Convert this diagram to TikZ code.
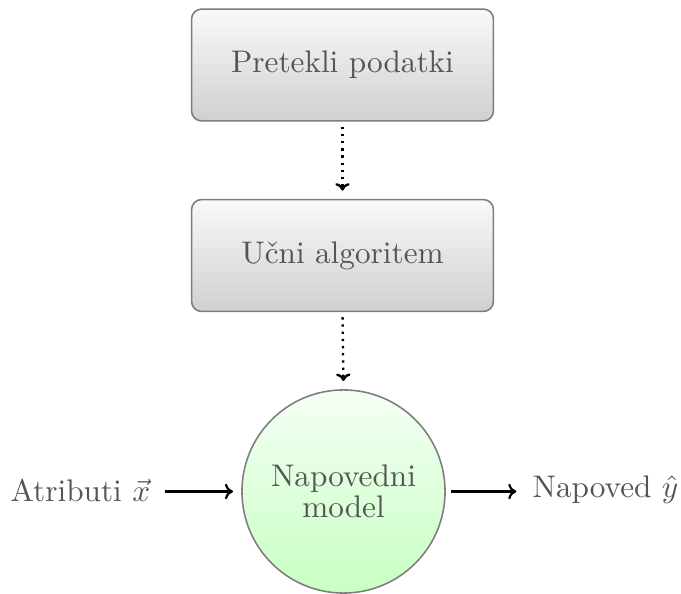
\documentclass[tikz,border=0pt]{standalone}
\usetikzlibrary{arrows.meta,shapes.geometric}
\definecolor{textgray}{RGB}{85,85,85}
\definecolor{bordergray}{RGB}{125,125,125}
\definecolor{boxtop}{RGB}{249,249,249}
\definecolor{boxbottom}{RGB}{208,208,208}
\definecolor{modeltop}{RGB}{245,255,245}
\definecolor{modelbottom}{RGB}{200,255,195}
\tikzset{
  stagebox/.style={draw=bordergray, line width=0.5pt, rounded corners=3.2pt,
    minimum width=96.6pt, minimum height=35.8pt,
    top color=boxtop, bottom color=boxbottom, text=textgray, font=\normalsize},
  modelnode/.style={draw=bordergray, line width=0.5pt, circle,
    minimum size=65pt, inner sep=0pt, align=center,
    top color=modeltop, bottom color=modelbottom, text=textgray},
  plainlabel/.style={text=textgray},
  flowarrow/.style={-{To[length=2.4pt,width=4.6pt]}, line width=0.75pt,
    dash pattern=on 0.75pt off 1.55pt, shorten <=1.6pt, shorten >=2.6pt},
  iolink/.style={-{To[length=2.6pt,width=5pt]}, line width=0.7pt}
}
\begin{document}
\begin{tikzpicture}[x=0.32pt,y=-0.32pt]
  \useasboundingbox (0,0) rectangle (681,594);
  \node[stagebox] (data) at (342.5,65) {Pretekli podatki};
  \node[stagebox] (learn) at (342.5,255.5) {U\v{c}ni algoritem};
  \node[modelnode] (model) at (343.5,491.5) {Napovedni\\[-2pt]model};
  \node[plainlabel, anchor=west, inner sep=0pt] (input) at (10,490) {Atributi $\vec{x}$};
  \node[plainlabel, anchor=west, inner sep=0pt] (output) at (532,490) {Napoved $\hat{y}$};
  \draw[flowarrow] (data.south) -- (learn.north);
  \draw[flowarrow] (learn.south) -- (model.north);
  \draw[iolink, shorten <=4.4pt, shorten >=2.6pt] (input.east |- model.west) -- (model.west);
  \draw[iolink, shorten <=1.6pt, shorten >=5pt] (model.east) -- (output.west |- model.east);
\end{tikzpicture}
\end{document}
